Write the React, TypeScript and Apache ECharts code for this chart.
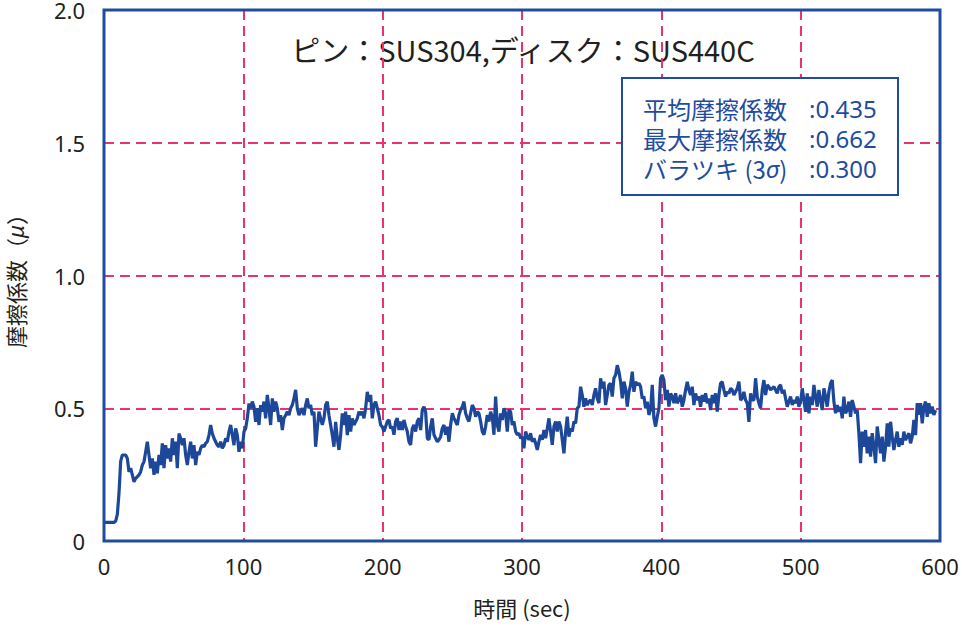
import React, { useEffect, useRef } from "react";
import * as echarts from "echarts";

// friction coefficient, one sample every timeStep seconds
const timeStep = 1.196;
const valuesA = [
  0.07, 0.07, 0.07, 0.07, 0.07, 0.07, 0.07, 0.075, 0.1, 0.18,
  0.3, 0.324, 0.324, 0.324, 0.311, 0.261, 0.274, 0.249, 0.223, 0.236,
  0.242, 0.249, 0.261, 0.286, 0.299, 0.336, 0.374, 0.324, 0.274, 0.311,
  0.249, 0.299, 0.255, 0.324, 0.286, 0.368, 0.274, 0.361, 0.311, 0.349,
  0.299, 0.387, 0.324, 0.374, 0.274, 0.405, 0.387, 0.361, 0.387, 0.324,
  0.286, 0.336, 0.374, 0.311, 0.361, 0.286, 0.336, 0.324, 0.349, 0.361,
  0.355, 0.368, 0.374, 0.399, 0.437, 0.405, 0.387, 0.374, 0.361, 0.355,
  0.374, 0.349, 0.361, 0.387, 0.374, 0.412, 0.437, 0.399, 0.361, 0.424,
  0.399, 0.336, 0.374, 0.349, 0.412, 0.424, 0.462, 0.518, 0.5, 0.525,
  0.506, 0.449, 0.5, 0.437, 0.512, 0.487, 0.525, 0.462, 0.55, 0.5,
  0.437, 0.537, 0.487, 0.525, 0.5, 0.449, 0.474, 0.418, 0.462, 0.474,
  0.487, 0.474, 0.5, 0.512, 0.537, 0.569, 0.5, 0.474, 0.487, 0.5,
  0.474, 0.512, 0.537, 0.5, 0.512, 0.474, 0.487, 0.355, 0.424, 0.487,
  0.462, 0.437, 0.462, 0.512, 0.525, 0.474, 0.437, 0.399, 0.355, 0.449,
  0.387, 0.343, 0.399, 0.481, 0.437, 0.487, 0.399, 0.474, 0.412, 0.462,
  0.437, 0.449, 0.462, 0.487, 0.474, 0.487, 0.462, 0.5, 0.562, 0.525,
  0.55, 0.462, 0.512, 0.525, 0.5, 0.474, 0.437, 0.43,
];
const valuesB = [
  0.412, 0.431, 0.45, 0.456, 0.424, 0.431, 0.4, 0.45, 0.462, 0.418,
  0.45, 0.418, 0.456, 0.431, 0.412, 0.374, 0.362, 0.424, 0.437, 0.412,
  0.45, 0.462, 0.418, 0.494, 0.506, 0.487, 0.387, 0.381, 0.431, 0.462,
  0.4, 0.387, 0.374, 0.381, 0.393, 0.424, 0.437, 0.4, 0.431, 0.374,
  0.437, 0.481, 0.462, 0.45, 0.437, 0.475, 0.494, 0.506, 0.525, 0.481,
  0.462, 0.45, 0.481, 0.512, 0.5, 0.468, 0.487, 0.481, 0.45, 0.412,
  0.4, 0.431, 0.475, 0.45, 0.487, 0.468, 0.4, 0.544, 0.437, 0.412,
  0.481, 0.456, 0.5, 0.481, 0.412, 0.494, 0.487, 0.437, 0.45, 0.412,
  0.4, 0.406, 0.387, 0.393, 0.349, 0.412, 0.393, 0.381, 0.406, 0.374,
  0.387, 0.368, 0.343, 0.374, 0.4, 0.381, 0.418, 0.387, 0.424, 0.462,
  0.412, 0.362, 0.431, 0.45, 0.412, 0.45, 0.431, 0.381, 0.33, 0.412,
  0.468, 0.393, 0.424, 0.412, 0.45, 0.443, 0.5, 0.506, 0.581, 0.55,
  0.506, 0.537, 0.512, 0.525, 0.531, 0.512, 0.55, 0.575, 0.537, 0.519,
  0.613, 0.575, 0.6, 0.512, 0.55, 0.588, 0.594, 0.544, 0.613, 0.625,
  0.662, 0.638, 0.6, 0.537, 0.6, 0.575, 0.506, 0.562, 0.588, 0.638,
  0.562, 0.6, 0.588, 0.594, 0.581, 0.537, 0.544, 0.5, 0.525, 0.475,
  0.494, 0.588, 0.462, 0.431, 0.468, 0.5, 0.613, 0.625,
];
const valuesC = [
  0.606, 0.531, 0.569, 0.506, 0.556, 0.544, 0.519, 0.556, 0.519, 0.531,
  0.55, 0.506, 0.531, 0.569, 0.6, 0.569, 0.55, 0.581, 0.512, 0.556,
  0.531, 0.544, 0.506, 0.55, 0.525, 0.556, 0.519, 0.537, 0.493, 0.55,
  0.519, 0.556, 0.487, 0.55, 0.594, 0.6, 0.569, 0.544, 0.562, 0.556,
  0.575, 0.569, 0.55, 0.562, 0.575, 0.6, 0.531, 0.537, 0.562, 0.531,
  0.519, 0.449, 0.556, 0.531, 0.531, 0.613, 0.544, 0.519, 0.5, 0.569,
  0.606, 0.55, 0.588, 0.581, 0.569, 0.575, 0.581, 0.569, 0.556, 0.581,
  0.588, 0.556, 0.569, 0.537, 0.506, 0.525, 0.544, 0.512, 0.531, 0.519,
  0.544, 0.506, 0.525, 0.575, 0.531, 0.487, 0.556, 0.481, 0.544, 0.512,
  0.588, 0.544, 0.506, 0.569, 0.531, 0.493, 0.575, 0.544, 0.506, 0.562,
  0.594, 0.606, 0.525, 0.481, 0.512, 0.487, 0.506, 0.462, 0.544, 0.481,
  0.493, 0.525, 0.468, 0.531, 0.506, 0.481, 0.493, 0.406, 0.293, 0.412,
  0.355, 0.418, 0.33, 0.393, 0.318, 0.406, 0.355, 0.293, 0.431, 0.38,
  0.33, 0.393, 0.299, 0.355, 0.443, 0.355, 0.449, 0.393, 0.343, 0.38,
  0.412, 0.355, 0.387, 0.362, 0.412, 0.38, 0.393, 0.406, 0.368, 0.393,
  0.456, 0.399, 0.519, 0.475, 0.519, 0.443, 0.506, 0.525, 0.468, 0.519,
  0.481, 0.506, 0.475, 0.493,
];
const xTicks = [0, 100, 200, 300, 400, 500, 600];
const yTicks = [0, 0.5, 1.0, 1.5, 2.0];
const titleText = "ピン：SUS304,ディスク：SUS440C";
const statLabels = ["平均摩擦係数", "最大摩擦係数", "バラツキ (3{s|σ})"];
const statValues = ["0.435", "0.662", "0.300"];

const BLUE = "#1f4c9e";
const LINE = "#1d489a";
const PINK = "#e8336f";
const DARK = "#231f20";
const JP = "'Noto Sans CJK JP', 'Noto Sans', sans-serif";
const LAT = "'Noto Sans', 'Open Sans', sans-serif";

export default function App() {
  const ref = useRef<HTMLDivElement>(null);
  useEffect(() => {
    document.body.style.margin = "0";
    if (!ref.current) return;
    const chart = echarts.init(ref.current, undefined, { renderer: "svg" });
    const values = [...valuesA, ...valuesB, ...valuesC];
    const data = values.map((v, i) => [i * timeStep, v]);
    const graphics: any[] = [
      {
        type: "text",
        style: {
          x: 523,
          y: 49,
          text: titleText,
          fill: DARK,
          fontSize: 29,
          fontFamily: JP,
          align: "center",
          verticalAlign: "middle",
        },
      },
      {
        type: "rect",
        shape: { x: 622, y: 78, width: 276, height: 117 },
        style: { fill: "#fff", stroke: BLUE, lineWidth: 2 },
        z: 10,
      },
      {
        type: "text",
        z: 11,
        style: {
          x: 643,
          y: 138,
          text: statLabels.join("\n"),
          fill: BLUE,
          fontSize: 24,
          lineHeight: 30,
          fontFamily: JP,
          verticalAlign: "middle",
          rich: {
            s: { fontStyle: "italic", fontSize: 24, lineHeight: 30, fontFamily: LAT, fill: BLUE },
          },
        },
      },
      {
        type: "text",
        z: 11,
        style: {
          x: 809,
          y: 138,
          text: statValues.map((v) => ":" + v).join("\n"),
          fill: BLUE,
          fontSize: 24,
          lineHeight: 30,
          fontFamily: LAT,
          verticalAlign: "middle",
        },
      },
    ];

    chart.setOption({
      animation: false,
      grid: {
        left: 104,
        right: 22,
        top: 10,
        bottom: 86,
        outerBoundsMode: "none",
        containLabel: false,
        show: true,
        borderColor: BLUE,
        borderWidth: 3,
        backgroundColor: "transparent",
        z: 5,
      },
      xAxis: {
        type: "value",
        min: xTicks[0],
        max: xTicks[xTicks.length - 1],
        interval: 100,
        axisLine: { show: false },
        axisTick: { show: false },
        axisLabel: { fontSize: 22, color: DARK, fontFamily: LAT, margin: 14 },
        splitLine: {
          show: true,
          showMinLine: false,
          showMaxLine: false,
          lineStyle: { color: PINK, type: [10, 6], width: 2 },
        },
        name: "時間 (sec)",
        nameLocation: "middle",
        nameGap: 55,
        nameTextStyle: { fontSize: 22, color: DARK, fontFamily: JP },
      },
      yAxis: {
        type: "value",
        min: yTicks[0],
        max: yTicks[yTicks.length - 1],
        interval: 0.5,
        axisLine: { show: false },
        axisTick: { show: false },
        axisLabel: {
          fontSize: 22,
          lineHeight: 20,
          color: DARK,
          fontFamily: LAT,
          margin: 19,
          formatter: (v: number) => (v === 0 ? "0" : v.toFixed(1)),
        },
        splitLine: {
          show: true,
          showMinLine: false,
          showMaxLine: false,
          lineStyle: { color: PINK, type: [10, 6], width: 2 },
        },
        name: "摩擦係数（{i|μ}）",
        nameLocation: "middle",
        nameGap: 78,
        nameRotate: 90,
        nameTextStyle: {
          fontSize: 22,
          lineHeight: 22,
          color: DARK,
          fontFamily: JP,
          rich: {
            i: { fontStyle: "italic", fontSize: 22, lineHeight: 22, fontFamily: LAT, color: DARK },
          },
        },
      },
      series: [
        {
          type: "line",
          data,
          showSymbol: false,
          lineStyle: { color: LINE, width: 3.2 },
          z: 3,
        },
      ],
      graphic: graphics,
    });
    return () => chart.dispose();
  }, []);
  return <div ref={ref} style={{ width: 962, height: 627 }} />;
}
